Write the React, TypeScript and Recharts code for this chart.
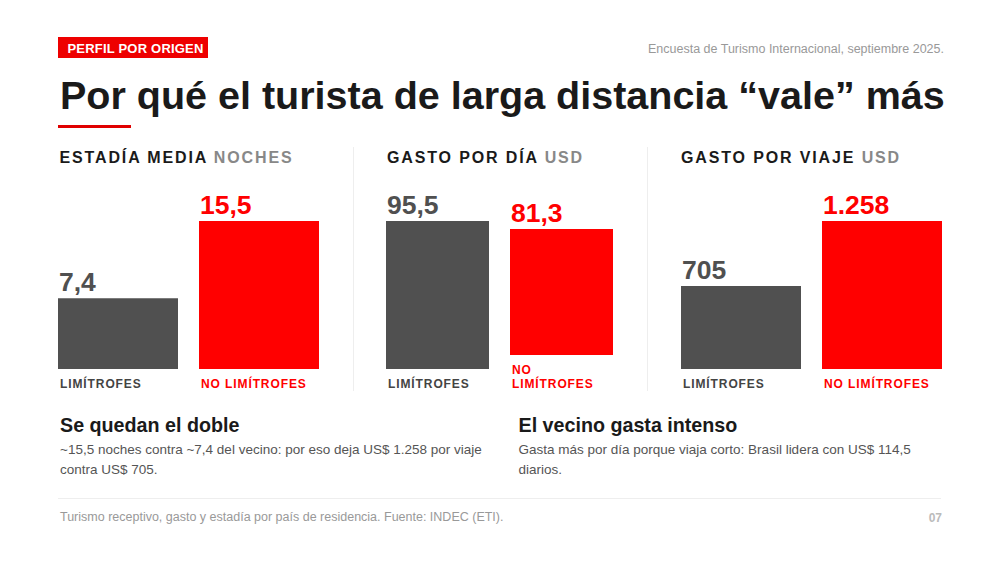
import React from 'react';
import { BarChart, Bar, XAxis, YAxis, LabelList, Cell } from 'recharts';

// Bar categories shared by the three panels
const categories = ['LIMÍTROFES', 'NO LIMÍTROFES'];

// Values per panel: [limítrofes, no limítrofes]
const nightsValues = [7.4, 15.5];
const dailySpendValues = [95.5, 81.3];
const tripSpendValues = [705, 1258];

const panelTitles = ['ESTADÍA MEDIA', 'GASTO POR DÍA', 'GASTO POR VIAJE'];
const panelUnits = ['NOCHES', 'USD', 'USD'];
const panelDecimals = [1, 1, 0];

const FONT = '"Liberation Sans", Arial, Helvetica, sans-serif';
const RED = '#ff0000';
const GRAY_BAR = '#505050';
const barColors = [GRAY_BAR, RED];
const labelColors = ['#444444', RED];

// Spanish number format: decimal comma, dot for thousands
function formatEs(v: number, decimals: number): string {
  const fixed = v.toFixed(decimals);
  const [intPart, decPart] = fixed.split('.');
  const grouped = intPart.replace(/\B(?=(\d{3})+(?!\d))/g, '.');
  return decPart ? `${grouped},${decPart}` : grouped;
}

const PLOT_H = 148;
const CHART_TOP = 34;

type ColumnProps = {
  x: number;
  width: number;
  value: number;
  max: number;
  decimals: number;
  color: string;
  labelColor: string;
  category: string;
};

function BarColumn({ x, width, value, max, decimals, color, labelColor, category }: ColumnProps) {
  const data = [{ name: category, value }];
  return (
    <div
      style={{
        position: 'absolute',
        left: x,
        top: 0,
        width,
        height: 391,
        display: 'flex',
        flexDirection: 'column',
        justifyContent: 'flex-end',
      }}
    >
      <BarChart
        width={width}
        height={PLOT_H + CHART_TOP}
        data={data}
        margin={{ top: CHART_TOP, right: 0, bottom: 0, left: 0 }}
        barCategoryGap={0}
        style={{ overflow: 'visible' }}
      >
        <XAxis dataKey="name" hide />
        <YAxis hide domain={[0, max]} />
        <Bar dataKey="value" isAnimationActive={false}>
          <Cell fill={color} />
          <LabelList
            dataKey="value"
            content={(p: any) => (
              <text
                x={Number(p.x) + 1}
                y={Number(p.y) - 7}
                fill={color}
                fontSize={26.5}
                fontWeight={700}
                fontFamily={FONT}
                textAnchor="start"
              >
                {formatEs(Number(p.value), decimals)}
              </text>
            )}
          />
        </Bar>
      </BarChart>
      <div
        style={{
          marginTop: 8,
          fontFamily: FONT,
          fontSize: 12,
          lineHeight: '14px',
          fontWeight: 700,
          letterSpacing: 0.9,
          color: labelColor,
          paddingLeft: 2,
        }}
      >
        {category}
      </div>
    </div>
  );
}

type TxtProps = {
  x?: number;
  right?: number;
  base: number;
  size: number;
  weight?: number;
  color: string;
  ls?: number;
  children: React.ReactNode;
};

// Positions a single text line by its baseline
function Txt({ x, right, base, size, weight = 400, color, ls = 0, children }: TxtProps) {
  const top = base - 0.8465 * size;
  const pos: React.CSSProperties =
    right !== undefined ? { right: 1000 - right } : { left: x };
  return (
    <div
      style={{
        position: 'absolute',
        top,
        ...pos,
        fontFamily: FONT,
        fontSize: size,
        lineHeight: `${size}px`,
        fontWeight: weight,
        color,
        letterSpacing: ls,
        whiteSpace: 'nowrap',
      }}
    >
      {children}
    </div>
  );
}

const panelValues = [nightsValues, dailySpendValues, tripSpendValues];
const panelLayout = [
  { titleX: 59.5, bars: [{ x: 58, w: 120 }, { x: 199, w: 120 }] },
  { titleX: 387, bars: [{ x: 386, w: 103 }, { x: 510, w: 103 }] },
  { titleX: 681, bars: [{ x: 681, w: 120 }, { x: 822, w: 120 }] },
];

const bodyStyle: React.CSSProperties = {
  position: 'absolute',
  top: 440.2,
  fontFamily: FONT,
  fontSize: 13.5,
  lineHeight: '20px',
  color: '#555555',
  whiteSpace: 'nowrap',
};

export default function App() {
  return (
    <div
      style={{
        position: 'absolute',
        left: 0,
        top: 0,
        width: 1000,
        height: 563,
        background: '#ffffff',
        overflow: 'hidden',
        fontFamily: FONT,
      }}
    >
      {/* header tag */}
      <div style={{ position: 'absolute', left: 58, top: 37, width: 150, height: 21, background: '#ee0000' }} />
      <Txt x={67.5} base={53.3} size={13} weight={700} color="#ffffff" ls={0.2}>
        PERFIL POR ORIGEN
      </Txt>
      <Txt right={944} base={53.3} size={12.5} color="#999999">
        Encuesta de Turismo Internacional, septiembre 2025.
      </Txt>

      {/* title */}
      <Txt x={60} base={109.3} size={39.5} weight={700} color="#1a1a1a">
        Por qué el turista de larga distancia “vale” más
      </Txt>
      <div style={{ position: 'absolute', left: 58, top: 125, width: 73, height: 3, background: '#e00000' }} />

      {/* panel dividers */}
      <div style={{ position: 'absolute', left: 352.5, top: 147, width: 1, height: 244, background: '#eeeeee' }} />
      <div style={{ position: 'absolute', left: 646.5, top: 147, width: 1, height: 244, background: '#eeeeee' }} />

      {panelLayout.map((p, i) => {
        const vals = panelValues[i];
        const max = Math.max(...vals);
        return (
          <React.Fragment key={i}>
            <Txt x={p.titleX} base={164} size={16} weight={700} color="#1a1a1a" ls={1.86}>
              {panelTitles[i]} <span style={{ color: '#888888' }}>{panelUnits[i]}</span>
            </Txt>
            {p.bars.map((b, j) => (
              <BarColumn
                key={j}
                x={b.x}
                width={b.w}
                value={vals[j]}
                max={max}
                decimals={panelDecimals[i]}
                color={barColors[j]}
                labelColor={labelColors[j]}
                category={categories[j]}
              />
            ))}
          </React.Fragment>
        );
      })}

      {/* takeaways */}
      <Txt x={60} base={432.7} size={19.7} weight={700} color="#1a1a1a">
        Se quedan el doble
      </Txt>
      <div style={{ ...bodyStyle, left: 60 }}>
        ~15,5 noches contra ~7,4 del vecino: por eso deja US$ 1.258 por viaje
        <br />
        contra US$ 705.
      </div>
      <Txt x={518.5} base={432.7} size={19.7} weight={700} color="#1a1a1a">
        El vecino gasta intenso
      </Txt>
      <div style={{ ...bodyStyle, left: 518.5 }}>
        Gasta más por día porque viaja corto: Brasil lidera con US$ 114,5
        <br />
        diarios.
      </div>

      {/* footer */}
      <div style={{ position: 'absolute', left: 58, top: 498, width: 883, height: 1, background: '#eeeeee' }} />
      <Txt x={60} base={522} size={12.5} color="#999999">
        Turismo receptivo, gasto y estadía por país de residencia. Fuente: INDEC (ETI).
      </Txt>
      <Txt right={942} base={522} size={12} weight={700} color="#bbbbbb">
        07
      </Txt>
    </div>
  );
}
